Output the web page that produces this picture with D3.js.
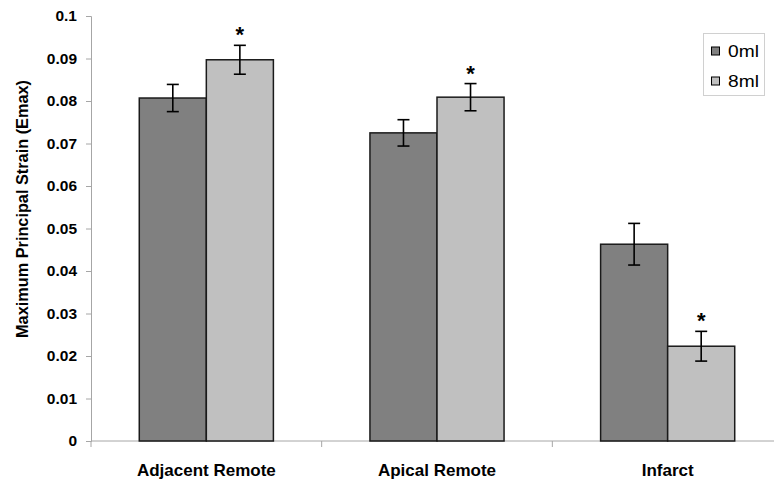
<!DOCTYPE html>
<html><head><meta charset="utf-8">
<script src="https://cdn.jsdelivr.net/npm/d3@7"></script>
<style>body{margin:0;background:#fff}svg{display:block;font-family:"Liberation Sans",Arial,sans-serif}</style>
</head><body>
<svg id="c" width="774" height="483"></svg>
<script>
const categories = ["Adjacent Remote", "Apical Remote", "Infarct"];
const seriesNames = ["0ml", "8ml"];
const values0 = [0.0807, 0.0725, 0.0463];
const values8 = [0.0897, 0.0809, 0.0223];
const errors0 = [0.0032, 0.0031, 0.0049];
const errors8 = [0.0034, 0.0032, 0.0035];
const significant8 = [true, true, true];
const yTicks = [0, 0.01, 0.02, 0.03, 0.04, 0.05, 0.06, 0.07, 0.08, 0.09, 0.1];

(function () {
const svg = d3.select("#c");
const pl = 91, pr = 783, pt = 16, pb = 441;
const x0 = d3.scaleBand().domain(categories).range([pl, pr]).paddingInner(0).paddingOuter(0);
const x1 = d3.scaleBand().domain(seriesNames).range([0, x0.bandwidth()]).paddingInner(0).paddingOuter(0.72);
const y = d3.scaleLinear().domain([0, 0.1]).range([pb, pt]);
const colors = {"0ml": "#808080", "8ml": "#c0c0c0"};

// y axis
const yAxis = svg.append("g").attr("transform", `translate(${pl},0)`)
  .call(d3.axisLeft(y).tickValues(yTicks).tickSize(5).tickPadding(9).tickFormat(d => d === 0 ? "0" : d3.format(".2~f")(d)));
yAxis.select(".domain").attr("stroke", "#a6a6a6");
yAxis.selectAll(".tick line").attr("stroke", "#a6a6a6");
yAxis.selectAll(".tick text").attr("font-size", 15.5).attr("font-weight", "bold").attr("fill", "#000")
  .attr("font-family", '"Liberation Sans",Arial,sans-serif');

// x axis
const xAxisG = svg.append("g");
xAxisG.append("line").attr("x1", pl).attr("x2", 774).attr("y1", pb).attr("y2", pb).attr("stroke", "#a6a6a6");
const bounds = categories.map(c => x0(c)).concat([pr]);
xAxisG.selectAll("line.tk").data(bounds).join("line").attr("class", "tk")
  .attr("x1", d => d).attr("x2", d => d).attr("y1", pb).attr("y2", pb + 6).attr("stroke", "#a6a6a6");
xAxisG.selectAll("text").data(categories).join("text")
  .attr("x", d => x0(d) + x0.bandwidth() / 2).attr("y", 476)
  .attr("text-anchor", "middle").attr("font-size", 17).attr("font-weight", "bold").text(d => d);

// data rows
const rows = [];
categories.forEach((c, i) => {
  rows.push({cat: c, s: "0ml", v: values0[i], e: errors0[i], sig: false});
  rows.push({cat: c, s: "8ml", v: values8[i], e: errors8[i], sig: significant8[i]});
});

const g = svg.append("g");
g.selectAll("rect").data(rows).join("rect")
  .attr("x", d => x0(d.cat) + x1(d.s)).attr("width", x1.bandwidth())
  .attr("y", d => y(d.v)).attr("height", d => y(0) - y(d.v))
  .attr("fill", d => colors[d.s]).attr("stroke", "#1a1a1a").attr("stroke-width", 1.5);

const eb = g.selectAll("g.eb").data(rows).join("g").attr("class", "eb");
const cx = d => x0(d.cat) + x1(d.s) + x1.bandwidth() / 2;
eb.append("line").attr("x1", cx).attr("x2", cx).attr("y1", d => y(d.v + d.e)).attr("y2", d => y(d.v - d.e))
  .attr("stroke", "#000").attr("stroke-width", 1.6);
eb.append("line").attr("x1", d => cx(d) - 6).attr("x2", d => cx(d) + 6).attr("y1", d => y(d.v + d.e)).attr("y2", d => y(d.v + d.e))
  .attr("stroke", "#000").attr("stroke-width", 1.6);
eb.append("line").attr("x1", d => cx(d) - 6).attr("x2", d => cx(d) + 6).attr("y1", d => y(d.v - d.e)).attr("y2", d => y(d.v - d.e))
  .attr("stroke", "#000").attr("stroke-width", 1.6);

g.selectAll("text.sig").data(rows.filter(d => d.sig)).join("text").attr("class", "sig")
  .attr("x", cx).attr("y", d => y(d.v + d.e) - 3)
  .attr("text-anchor", "middle").attr("font-size", 22).attr("font-weight", "bold").text("*");

// y title
svg.append("text").attr("transform", "translate(28,209) rotate(-90)")
  .attr("text-anchor", "middle").attr("font-size", 16.3).attr("font-weight", "bold").text("Maximum Principal Strain (Emax)");

// legend
const lg = svg.append("g");
lg.append("rect").attr("x", 703.5).attr("y", 33.5).attr("width", 61).attr("height", 62)
  .attr("fill", "#fff").attr("stroke", "#d0d0d0");
seriesNames.forEach((s, i) => {
  const yy = 51 + i * 30;
  lg.append("rect").attr("x", 711.5).attr("y", yy - 4).attr("width", 8).attr("height", 8)
    .attr("fill", colors[s]).attr("stroke", "#000").attr("stroke-width", 1);
  lg.append("text").attr("x", 728).attr("y", yy + 6).attr("font-size", 16).attr("transform", `translate(${-728 * 0.2},0) scale(1.2,1)`).text(s);
});
})();
</script>
</body></html>
